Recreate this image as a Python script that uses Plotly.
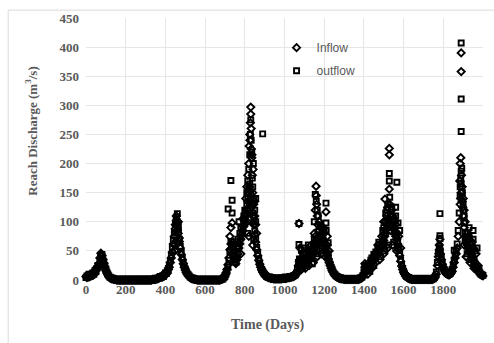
import plotly.graph_objects as go

# ---------------- data ----------------
step_days = list(range(0, 2001, 5))

inflow_base = [
    6, 4, 8, 5, 9, 7, 11, 8, 14, 12, 18, 22, 20, 28, 38, 46, 42, 35, 28, 22,
    16, 12, 9, 6, 4, 3, 2, 2, 1, 1, 1, 0, 0, 0, 0, 0, 0, 0, 0, 0,
    0, 0, 0, 0, 0, 0, 0, 0, 0, 0, 0, 0, 0, 0, 0, 0, 0, 0, 0, 0,
    0, 0, 0, 0, 0, 0, 0, 1, 1, 1, 1, 2, 2, 3, 4, 5, 6, 5, 8, 7,
    10, 14, 12, 18, 22, 30, 38, 48, 62, 75, 88, 102, 96, 80, 66, 55, 44, 35, 28, 22,
    17, 13, 10, 8, 6, 4, 3, 2, 2, 1, 1, 1, 0, 0, 0, 0, 0, 0, 0, 0,
    0, 0, 0, 0, 0, 0, 0, 0, 0, 0, 0, 0, 0, 0, 0, 0, 1, 2, 3, 5,
    8, 12, 18, 26, 38, 52, 62, 55, 46, 40, 32, 28, 35, 45, 55, 62, 70, 78, 85, 92,
    100, 110, 122, 135, 150, 160, 140, 125, 110, 95, 78, 65, 52, 42, 34, 27, 22, 17, 14, 11,
    9, 7, 6, 5, 4, 4, 3, 3, 3, 2, 2, 2, 2, 2, 2, 2, 2, 2, 3, 3,
    3, 3, 3, 4, 4, 4, 5, 5, 6, 6, 7, 8, 10, 14, 25, 32, 28, 24, 26, 30,
    28, 32, 30, 35, 33, 38, 36, 42, 45, 50, 55, 60, 65, 58, 62, 68, 72, 75, 70, 66,
    60, 54, 48, 42, 36, 30, 25, 20, 16, 13, 10, 8, 6, 5, 4, 3, 3, 2, 2, 2,
    1, 1, 1, 1, 1, 1, 1, 1, 1, 1, 1, 1, 1, 1, 1, 1, 2, 3, 4, 6,
    10, 22, 18, 15, 20, 25, 22, 30, 35, 32, 40, 38, 45, 42, 48, 52, 50, 55, 58, 62,
    68, 75, 80, 88, 95, 100, 92, 85, 90, 95, 88, 80, 75, 70, 62, 52, 42, 32, 24, 18,
    13, 10, 7, 5, 4, 3, 2, 2, 1, 1, 1, 1, 1, 1, 1, 1, 1, 1, 1, 1,
    1, 1, 1, 1, 1, 1, 1, 1, 1, 1, 2, 3, 5, 10, 25, 40, 52, 45, 35, 26,
    20, 16, 13, 11, 10, 9, 9, 10, 12, 15, 22, 30, 38, 45, 55, 75, 100, 130, 150, 135,
    110, 90, 75, 65, 60, 55, 52, 48, 45, 40, 35, 30, 26, 22, 18, 15, 13, 11, 9, 8, 7,
]

outflow_base = [
    4, 7, 5, 10, 6, 9, 8, 12, 10, 16, 14, 20, 25, 24, 32, 42, 44, 38, 31, 25,
    19, 14, 10, 7, 5, 4, 3, 2, 2, 1, 1, 1, 1, 0, 0, 0, 0, 0, 0, 0,
    0, 0, 0, 0, 0, 0, 0, 0, 0, 0, 0, 0, 0, 0, 0, 0, 0, 0, 0, 0,
    0, 0, 0, 0, 0, 1, 1, 1, 1, 2, 2, 2, 3, 3, 5, 6, 5, 7, 6, 9,
    12, 11, 16, 20, 26, 34, 42, 55, 68, 82, 95, 108, 100, 86, 70, 58, 48, 38, 30, 24,
    19, 15, 11, 9, 7, 5, 4, 3, 2, 2, 1, 1, 1, 0, 0, 0, 0, 0, 0, 0,
    0, 0, 0, 0, 0, 0, 0, 0, 0, 0, 0, 0, 0, 0, 0, 0, 1, 1, 2, 4,
    6, 10, 15, 22, 34, 48, 66, 60, 50, 42, 35, 30, 38, 48, 58, 66, 74, 82, 88, 96,
    105, 115, 128, 140, 155, 165, 148, 130, 115, 100, 84, 70, 56, 45, 36, 29, 23, 18, 15, 12,
    10, 8, 6, 5, 5, 4, 4, 3, 3, 3, 2, 2, 2, 2, 2, 2, 3, 3, 3, 3,
    4, 3, 4, 4, 5, 5, 5, 6, 6, 7, 8, 9, 12, 18, 30, 36, 32, 26, 30, 34,
    31, 36, 34, 38, 37, 42, 40, 46, 48, 54, 58, 64, 68, 62, 66, 72, 76, 78, 74, 69,
    63, 57, 50, 44, 38, 32, 27, 22, 18, 14, 11, 9, 7, 6, 5, 4, 3, 3, 2, 2,
    2, 1, 1, 1, 1, 1, 1, 1, 1, 1, 1, 1, 1, 1, 2, 2, 3, 4, 5, 8,
    14, 25, 20, 18, 24, 28, 26, 34, 38, 36, 44, 42, 48, 46, 52, 56, 54, 60, 62, 66,
    72, 80, 85, 92, 100, 105, 96, 90, 95, 100, 92, 85, 80, 74, 66, 56, 45, 35, 26, 20,
    15, 11, 8, 6, 5, 4, 3, 2, 2, 1, 1, 1, 1, 1, 1, 1, 1, 1, 1, 1,
    1, 1, 1, 1, 1, 1, 1, 1, 1, 2, 2, 4, 7, 14, 30, 45, 58, 50, 40, 30,
    23, 18, 15, 13, 11, 10, 10, 11, 14, 18, 26, 34, 42, 50, 62, 85, 115, 145, 165, 150,
    120, 98, 82, 70, 64, 60, 56, 52, 48, 44, 38, 33, 28, 24, 20, 17, 14, 12, 10, 9, 8,
]

inflow_peak_days = [
    445, 450, 455, 460, 465, 470, 448, 458,
    725, 730, 736, 740, 760, 780, 790,
    805, 810, 815, 820, 822, 825, 828, 830, 830, 832, 826, 835, 838, 840, 845, 850,
    818, 812, 860, 855, 842, 833, 836, 820, 840, 850,
    1073, 1078, 1090, 1110, 1130, 1150, 1155, 1159, 1160, 1162, 1165, 1168, 1170,
    1175, 1180, 1200, 1209, 1190, 1215,
    1085, 1095, 1105, 1115, 1125, 1135, 1145, 1155, 1165, 1175, 1185, 1195, 1205,
    1215, 1225,
    1405, 1500, 1506, 1515, 1520, 1528, 1528, 1528, 1530, 1540, 1545, 1550, 1560, 1570,
    1420, 1440, 1460, 1470, 1480, 1490, 1500, 1510, 1520, 1535, 1545, 1555, 1565,
    1575, 1585,
    1780, 1783, 1778,
    1883, 1885, 1888, 1890, 1890, 1892, 1895, 1887, 1898, 1900, 1905, 1910, 1920,
    1930, 1940, 1950, 1905, 1915, 1925, 1935, 1945, 1955, 1965, 1975,
]
inflow_peak_values = [
    60, 95, 110, 85, 100, 72, 50, 65,
    75, 90, 98, 65, 55, 45, 105,
    140, 160, 180, 200, 230, 250, 270, 297, 285, 260, 240, 210, 180, 150, 130, 110,
    120, 100, 80, 95, 190, 225, 215, 75, 60, 135,
    97, 55, 40, 45, 50, 80, 120, 161, 145, 130, 110, 95, 85,
    100, 90, 80, 117, 88, 60,
    18, 45, 20, 50, 25, 60, 30, 75, 40, 85, 45, 90, 40,
    75, 50,
    28, 100, 139, 110, 125, 226, 215, 156, 130, 120, 110, 105, 95, 80,
    10, 20, 30, 60, 35, 75, 45, 100, 55, 110, 60, 100, 50,
    75, 55,
    60, 70, 45,
    170, 200, 210, 358, 390, 180, 160, 140, 125, 140, 120, 100, 80,
    70, 60, 55, 60, 40, 75, 30, 65, 20, 45, 25,
]

outflow_peak_days = [
    455, 460, 450, 465,
    716, 730, 736, 736, 771, 775, 780, 765, 765, 795,
    800, 810, 815, 820, 825, 828, 830, 832, 835, 838, 840, 845, 850, 843, 890, 855,
    815, 845, 855,
    1073, 1073, 1085, 1095, 1150, 1155, 1160, 1165, 1170, 1209, 1209, 1220, 1200,
    1090, 1100, 1110, 1120, 1140, 1150, 1170, 1180, 1190, 1210, 1220,
    1510, 1528, 1528, 1530, 1540, 1566, 1572, 1560, 1500, 1520,
    1430, 1450, 1475, 1485, 1495, 1505, 1515, 1525, 1540, 1550, 1560, 1570, 1580,
    1783, 1783, 1783, 1780,
    1855, 1890, 1890, 1890, 1893, 1890, 1888, 1885, 1895, 1900, 1905, 1950, 1945,
    1930, 1960, 1940, 1910, 1920, 1930, 1940, 1950, 1960, 1970, 1980,
]
outflow_peak_values = [
    105, 114, 80, 90,
    122, 171, 137, 115, 100, 80, 90, 70, 55, 110,
    120, 150, 170, 190, 215, 250, 275, 240, 220, 175, 160, 140, 120, 200, 251, 100,
    80, 70, 140,
    97, 61, 51, 45, 100, 147, 135, 120, 110, 132, 98, 64, 85,
    22, 55, 25, 60, 28, 70, 45, 95, 50, 85, 45,
    115, 183, 170, 142, 122, 168, 98, 110, 90, 130,
    15, 25, 65, 40, 85, 50, 120, 60, 125, 65, 125, 55, 85,
    114, 76, 71, 55,
    51, 407, 311, 255, 192, 187, 175, 160, 150, 130, 110, 85, 63,
    75, 50, 45, 70, 45, 90, 35, 70, 25, 55, 20,
]

series_names = ["Inflow", "outflow"]
x_ticks = list(range(0, 2001, 200))
y_ticks = list(range(0, 451, 50))

# ---------------- figure ----------------
grey = "#595959"
serif = "Liberation Serif, Times New Roman, serif"

fig = go.Figure()
fig.add_trace(go.Scatter(
    x=step_days + inflow_peak_days, y=inflow_base + inflow_peak_values,
    mode="markers", name=series_names[0], legendgroup="a", cliponaxis=False,
    marker=dict(symbol="diamond-open", size=5.5, color="black", line=dict(width=1.9, color="black")),
))
fig.add_trace(go.Scatter(
    x=step_days + outflow_peak_days, y=outflow_base + outflow_peak_values,
    mode="markers", name=series_names[1], legendgroup="b", cliponaxis=False,
    marker=dict(symbol="square-open", size=5, color="black", line=dict(width=1.9, color="black")),
))

fig.update_layout(
    width=494, height=343,
    margin=dict(l=86, r=11, t=15, b=63),
    paper_bgcolor="white", plot_bgcolor="white",
    showlegend=True,
    legend=dict(x=0.48, y=0.942, xanchor="left", yanchor="top",
                bgcolor="rgba(0,0,0,0)", tracegroupgap=4,
                font=dict(family="Liberation Sans, Arial, sans-serif", size=12, color=grey)),
    xaxis=dict(range=[0, 2000], tickvals=x_ticks, showgrid=True, gridcolor="#e6e6e6",
               zeroline=False, showline=False, ticks="",
               tickfont=dict(family=serif, size=13, color=grey, weight="bold")),
    yaxis=dict(range=[0, 450], tickvals=y_ticks, showgrid=True, gridcolor="#e6e6e6",
               zeroline=False, showline=False, ticks="", ticklabelstandoff=6,
               tickfont=dict(family=serif, size=13, color=grey, weight="bold")),
    annotations=[
        dict(text="<b>Time (Days)</b>", xref="paper", yref="paper", x=0.458, y=-0.17,
             xanchor="center", yanchor="middle", showarrow=False,
             font=dict(family=serif, size=14, color=grey)),
        dict(text="<b>Reach Discharge (m<sup>3</sup>/s)</b>", xref="paper", yref="paper",
             x=-0.1385, y=0.566, xanchor="center", yanchor="middle", showarrow=False,
             textangle=-90, font=dict(family=serif, size=13, color=grey)),
    ],
    shapes=[
        dict(type="rect", xref="paper", yref="paper", x0=-0.196, x1=1.04, y0=-0.26, y1=1.030,
             line=dict(color="#d9d9d9", width=1), layer="below"),
    ],
)

fig.write_html("out.html")
